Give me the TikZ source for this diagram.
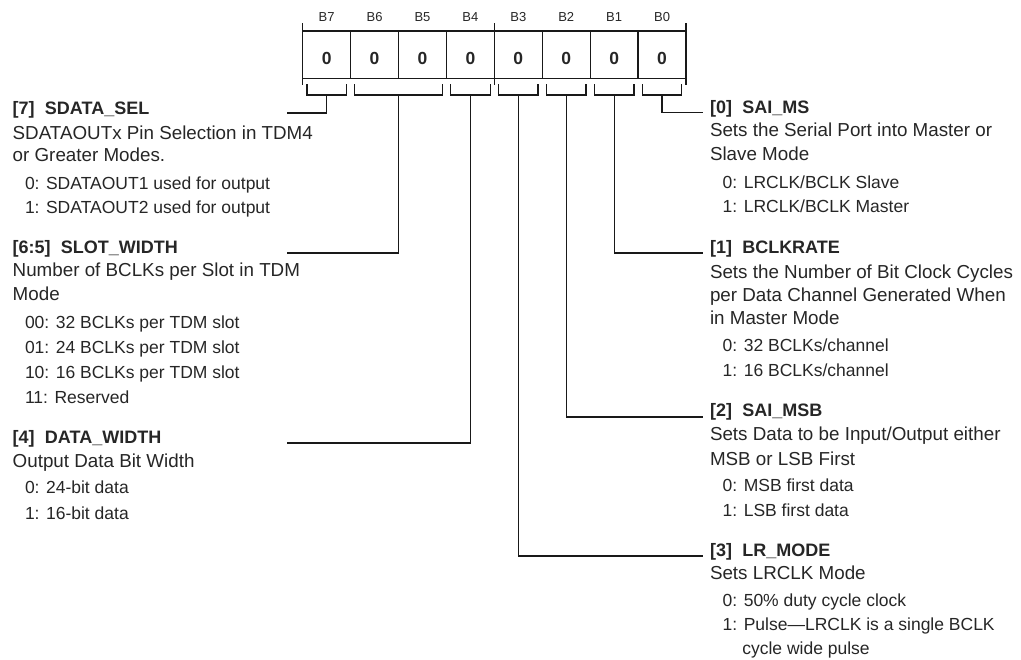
\documentclass[tikz,border=0pt]{standalone}
\usepackage{fontspec}
\setmainfont{Liberation Sans}
\begin{document}
\begin{tikzpicture}[x=1pt,y=-1pt,
  every node/.style={inner sep=0pt, outer sep=0pt, text=black!85},
  hd/.style={anchor=base west, font=\fontsize{18}{20}\selectfont\bfseries},
  ds/.style={anchor=base west, font=\fontsize{18.8}{22}\selectfont},
  vl/.style={anchor=base west, font=\fontsize{17.5}{20}\selectfont},
  bitlbl/.style={anchor=base, font=\fontsize{13}{14}\selectfont},
  cellbox/.style={draw=black!90, line width=1.3pt, minimum width=47.91pt, minimum height=47.3pt},
  cellval/.style={font=\fontsize{17.5}{18}\selectfont\bfseries},
  reg/.style={draw=black!90, line width=1.3pt},
  conn/.style={draw=black!90, line width=1.2pt}
]
\useasboundingbox (0,0) rectangle (1021,660);

% register cells
\foreach \i/\x in {7/326.66,6/374.57,5/422.48,4/470.39,3/518.30,2/566.21,1/614.12,0/662.03}{
  \node[cellbox] (c\i) at (\x,54.65) {};
  \node[cellval] (v\i) at ([yshift=-3.5pt]c\i.center) {0};
  \node[bitlbl] (b\i) at (\x,21.7) {B\i};
}
% ticks
\draw[reg] (302.7,23.3) -- (302.7,85);
\draw[reg] (494.34,23.3) -- (494.34,85);
\draw[reg] (685.98,23.3) -- (685.98,85);

% brackets
\draw[conn] (306.9,84.3) -- (306.9,95) -- (346.4,95) -- (346.4,84.3);
\draw[conn] (354.8,84.3) -- (354.8,95) -- (442.2,95) -- (442.2,84.3);
\draw[conn] (450.6,84.3) -- (450.6,95) -- (490.1,95) -- (490.1,84.3);
\draw[conn] (498.5,84.3) -- (498.5,95) -- (538.0,95) -- (538.0,84.3);
\draw[conn] (546.4,84.3) -- (546.4,95) -- (585.9,95) -- (585.9,84.3);
\draw[conn] (594.4,84.3) -- (594.4,95) -- (633.9,95) -- (633.9,84.3);
\draw[conn] (642.3,84.3) -- (642.3,95) -- (681.8,95) -- (681.8,84.3);
\coordinate (s7) at (326.66,95);
\coordinate (s65) at (398.5,95);
\coordinate (s4) at (470.39,95);
\coordinate (s3) at (518.3,95);
\coordinate (s2) at (566.21,95);
\coordinate (s1) at (614.12,95);
\coordinate (s0) at (662.03,95);

% connector ends
\coordinate (e7) at (286.5,113);
\coordinate (e65) at (286.5,253);
\coordinate (e4) at (286.5,443);
\coordinate (e0) at (703,112.5);
\coordinate (e1) at (703,253);
\coordinate (e2) at (703,417);
\coordinate (e3) at (703,556);

\draw[conn] (s7) |- (e7);
\draw[conn] (s65) |- (e65);
\draw[conn] (s4) |- (e4);
\draw[conn] (s0) |- (e0);
\draw[conn] (s1) |- (e1);
\draw[conn] (s2) |- (e2);
\draw[conn] (s3) |- (e3);

% left column
\node[hd] (h7) at (12.7,115) {[7]\hspace{0.57em}SDATA\_SEL};
\node[ds] (d7a) at (12.7,139.3) {SDATAOUTx Pin Selection in TDM4};
\node[ds] (d7b) at (12.7,161.7) {or Greater Modes.};
\node[vl] (v7a) at (25,190) {0: SDATAOUT1 used for output};
\node[vl] (v7b) at (25,214) {1: SDATAOUT2 used for output};

\node[hd] (h65) at (12.7,253.5) {[6:5]\hspace{0.57em}SLOT\_WIDTH};
\node[ds] (d65a) at (12.7,276.7) {Number of BCLKs per Slot in TDM};
\node[ds] (d65b) at (12.7,300.7) {Mode};
\node[vl] (v65a) at (25,328.3) {00: 32 BCLKs per TDM slot};
\node[vl] (v65b) at (25,353.3) {01: 24 BCLKs per TDM slot};
\node[vl] (v65c) at (25,378.3) {10: 16 BCLKs per TDM slot};
\node[vl] (v65d) at (25,404) {11: Reserved};

\node[hd] (h4) at (12.7,443.5) {[4]\hspace{0.57em}DATA\_WIDTH};
\node[ds] (d4a) at (12.7,467.3) {Output Data Bit Width};
\node[vl] (v4a) at (25,493.3) {0: 24-bit data};
\node[vl] (v4b) at (25,519.3) {1: 16-bit data};

% right column
\node[hd] (h0) at (710,113.8) {[0]\hspace{0.57em}SAI\_MS};
\node[ds] (d0a) at (710,136.7) {Sets the Serial Port into Master or};
\node[ds] (d0b) at (710,161) {Slave Mode};
\node[vl] (v0a) at (722.7,188.3) {0: LRCLK/BCLK Slave};
\node[vl] (v0b) at (722.7,212.3) {1: LRCLK/BCLK Master};

\node[hd] (h1) at (710,253.8) {[1]\hspace{0.57em}BCLKRATE};
\node[ds] (d1a) at (710,278.3) {Sets the Number of Bit Clock Cycles};
\node[ds] (d1b) at (710,301.7) {per Data Channel Generated When};
\node[ds] (d1c) at (710,325) {in Master Mode};
\node[vl] (v1a) at (722.7,351.7) {0: 32 BCLKs/channel};
\node[vl] (v1b) at (722.7,376.7) {1: 16 BCLKs/channel};

\node[hd] (h2) at (710,417) {[2]\hspace{0.57em}SAI\_MSB};
\node[ds] (d2a) at (710,440.5) {Sets Data to be Input/Output either};
\node[ds] (d2b) at (710,465) {MSB or LSB First};
\node[vl] (v2a) at (722.7,491.7) {0: MSB first data};
\node[vl] (v2b) at (722.7,516) {1: LSB first data};

\node[hd] (h3) at (710,556) {[3]\hspace{0.57em}LR\_MODE};
\node[ds] (d3a) at (710,579.3) {Sets LRCLK Mode};
\node[vl] (v3a) at (722.7,606) {0: 50\% duty cycle clock};
\node[vl] (v3b) at (722.7,630) {1: Pulse—LRCLK is a single BCLK};
\node[vl] (v3c) at (742.3,654) {cycle wide pulse};
\end{tikzpicture}
\end{document}
